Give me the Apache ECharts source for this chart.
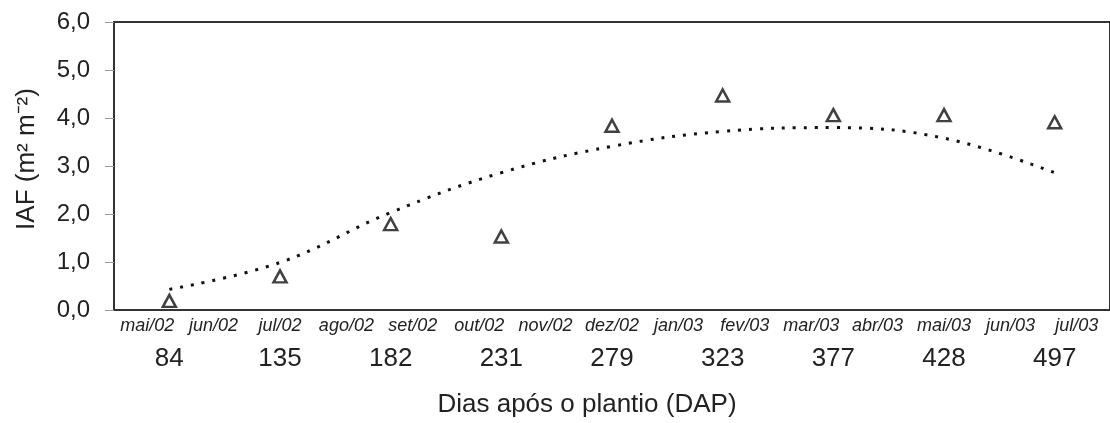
<!DOCTYPE html>
<html>
<head>
<meta charset="utf-8">
<script src="https://cdn.jsdelivr.net/npm/echarts@6/dist/echarts.min.js"></script>
<style>
  html, body { margin: 0; padding: 0; background: #fff; }
  #main { width: 1110px; height: 423px; }
</style>
</head>
<body>
<div id="main"></div>
<script>
// dias após o plantio (categorias do eixo x)
var dap = ['84', '135', '182', '231', '279', '323', '377', '428', '497'];
// meses (segunda linha de rótulos)
var meses = ['mai/02', 'jun/02', 'jul/02', 'ago/02', 'set/02', 'out/02', 'nov/02', 'dez/02',
             'jan/03', 'fev/03', 'mar/03', 'abr/03', 'mai/03', 'jun/03', 'jul/03'];
// IAF observado (triângulos)
var iafObs = [0.19, 0.70, 1.79, 1.53, 3.84, 4.47, 4.06, 4.06, 3.91];
// curva ajustada (pontilhada)
var iafAjust = [0.43, 0.99, 2.03, 2.86, 3.41, 3.72, 3.80, 3.58, 2.86];

var fonte = 'Arial, "Liberation Sans", sans-serif';

var myChart = echarts.init(document.getElementById('main'));
var option = {
    backgroundColor: '#fff',
    animation: false,
    grid: {
        left: 114,
        top: 22,
        width: 1002,
        height: 292,
        show: true,
        borderColor: '#333',
        borderWidth: 2,
        backgroundColor: 'transparent'
    },
    xAxis: [
        {
            type: 'category',
            data: dap,
            boundaryGap: true,
            position: 'bottom',
            axisLine: { lineStyle: { color: '#333', width: 2 } },
            axisTick: { inside: true, length: 8, lineStyle: { color: '#999', width: 1 } },
            axisLabel: { margin: 36, fontSize: 26, color: '#222', fontFamily: fonte },
            name: 'Dias após o plantio (DAP)',
            nameLocation: 'middle',
            nameGap: 82,
            nameTextStyle: { fontSize: 26, color: '#222', fontFamily: fonte, padding: [0, 50, 0, 0] }
        },
        {
            type: 'category',
            data: meses,
            position: 'bottom',
            axisLine: { show: false },
            axisTick: { show: false },
            axisLabel: { margin: 7, fontSize: 18, fontStyle: 'italic', color: '#222', fontFamily: fonte, interval: 0 }
        }
    ],
    yAxis: {
        type: 'value',
        min: 0,
        max: 6,
        interval: 1,
        axisLine: { show: true, lineStyle: { color: '#333', width: 2 } },
        axisTick: { show: true, inside: false, length: 9, lineStyle: { color: '#999' } },
        splitLine: { show: false },
        axisLabel: {
            margin: 24,
            fontSize: 24,
            color: '#222',
            fontFamily: fonte,
            padding: [4, 0, 0, 0],
            formatter: function (v) { return v.toFixed(1).replace('.', ','); }
        },
        name: 'IAF (m² m⁻²)',
        nameLocation: 'middle',
        nameGap: 74,
        nameTextStyle: { fontSize: 26, color: '#222', fontFamily: fonte, padding: [0, 0, 0, 14] }
    },
    series: [
        {
            name: 'ajustado',
            type: 'line',
            data: iafAjust,
            smooth: 0.4,
            symbol: 'none',
            lineStyle: { color: '#111', width: 3, type: [3, 8] },
            z: 2
        },
        {
            name: 'observado',
            type: 'scatter',
            data: iafObs,
            symbol: 'triangle',
            symbolSize: [13, 12],
            itemStyle: { color: '#fff', borderColor: '#111', borderWidth: 2.5 },
            z: 3
        }
    ]
};
myChart.setOption(option);
</script>
</body>
</html>
